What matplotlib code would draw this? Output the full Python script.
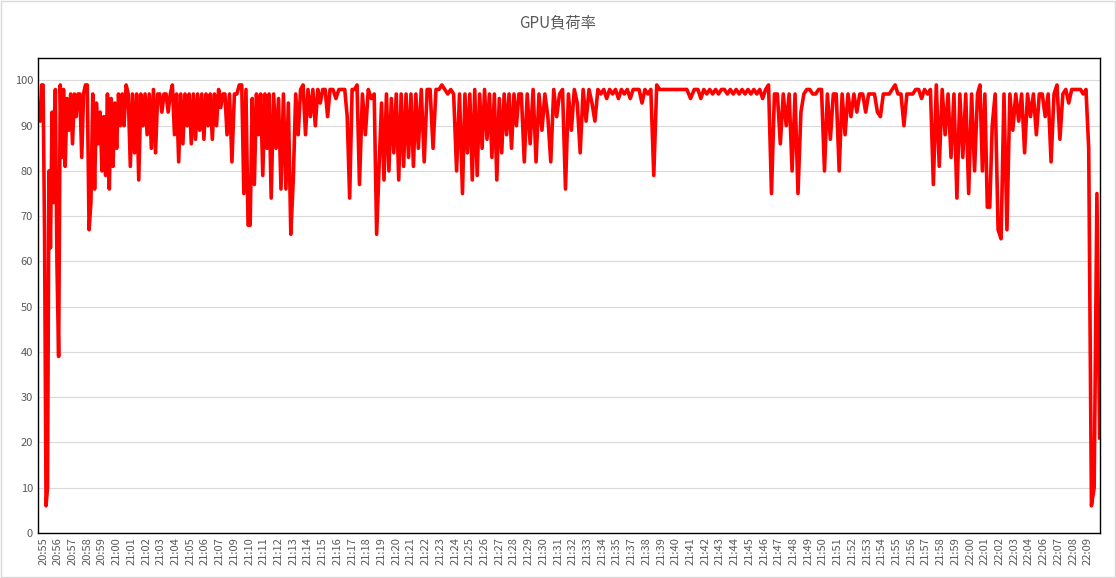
import numpy as np
import matplotlib.pyplot as plt

plt.rcParams['font.family'] = ['Noto Sans CJK JP', 'DejaVu Sans']

# tick labels as shown on the chart (Excel skipped 21:08, 21:36 and 22:05)
labels = ['20:55', '20:56', '20:57', '20:58', '20:59',
          '21:00', '21:01', '21:02', '21:03', '21:04', '21:05', '21:06', '21:07',
          '21:09', '21:10', '21:11', '21:12', '21:13', '21:14', '21:15', '21:16',
          '21:17', '21:18', '21:19', '21:20', '21:21', '21:22', '21:23', '21:24',
          '21:25', '21:26', '21:27', '21:28', '21:29', '21:30', '21:31', '21:32',
          '21:33', '21:34', '21:35', '21:37', '21:38', '21:39', '21:40', '21:41',
          '21:42', '21:43', '21:44', '21:45', '21:46', '21:47', '21:48', '21:49',
          '21:50', '21:51', '21:52', '21:53', '21:54', '21:55', '21:56', '21:57',
          '21:58', '21:59', '22:00', '22:01', '22:02', '22:03', '22:04', '22:06',
          '22:07', '22:08', '22:09']

# GPU load (%) samples, grouped by tick slot
slot_load = [
    [95, 91, 99, 99, 66, 6, 10, 80],
    [63, 93, 73, 98, 59, 39, 99, 83, 98],
    [81, 96, 89, 97, 86, 97, 92, 97],
    [97, 83, 97, 99, 99, 67, 73, 97],
    [76, 95, 86, 93, 80, 92, 79, 97],
    [76, 96, 81, 95, 85, 97, 90, 97],
    [90, 99, 97, 81, 97, 84, 97],
    [78, 97, 90, 97, 88, 97, 85],
    [98, 84, 97, 97, 93, 97, 97],
    [93, 97, 99, 88, 97, 82, 97],
    [86, 97, 90, 97, 86, 97, 87],
    [97, 89, 97, 87, 97, 90, 97],
    [87, 97, 90, 98, 94, 97, 97],
    [88, 97, 82, 97, 97, 99],
    [99, 75, 98, 68, 68, 96, 77],
    [97, 88, 97, 79, 97, 85, 97],
    [74, 97, 85, 96, 76, 97],
    [76, 95, 66, 78, 97, 88],
    [98, 99, 88, 98, 92, 98],
    [90, 98, 95, 98, 98, 92],
    [98, 98, 96, 98, 98],
    [98, 92, 74, 98, 98, 99],
    [77, 97, 88, 98, 96],
    [97, 66, 81, 95, 78, 97],
    [80, 96, 84, 97, 78, 97],
    [81, 97, 83, 97, 81, 97],
    [85, 98, 82, 98, 98],
    [85, 98, 98, 99, 98],
    [97, 98, 97, 80, 97],
    [75, 97, 84, 97, 78, 98],
    [79, 97, 85, 98, 87, 97],
    [83, 97, 78, 96, 84, 97],
    [88, 97, 85, 97, 90, 97],
    [97, 82, 97, 86, 98],
    [82, 97, 89, 97, 92],
    [82, 98, 92, 97, 98],
    [76, 97, 89, 98, 95],
    [84, 98, 91, 98, 95],
    [91, 98, 97, 98, 96],
    [98, 97, 98, 96, 98],
    [97, 98, 96, 98, 98],
    [98, 95, 98, 97, 98],
    [79, 99, 98, 98, 98],
    [98, 98, 98, 98],
    [98, 98, 96, 98],
    [98, 96, 98, 97, 98],
    [97, 98, 97, 98, 98],
    [97, 98, 97, 98, 97],
    [98, 97, 98, 97, 98],
    [97, 98, 96, 98, 99],
    [75, 97, 97, 86, 97],
    [90, 97, 80, 97, 75],
    [93, 97, 98, 98, 97],
    [97, 98, 98, 80, 97],
    [87, 97, 97, 80, 97],
    [88, 97, 92, 97, 93],
    [97, 97, 93, 97, 97],
    [97, 93, 92, 97, 97],
    [97, 98, 99, 97, 97],
    [90, 97, 97, 97, 98],
    [98, 96, 98, 97, 98],
    [77, 99, 81, 98, 88],
    [97, 83, 97, 74, 97],
    [83, 97, 75, 97, 80],
    [97, 99, 80, 97, 72, 72],
    [90, 97, 67, 65, 97],
    [67, 97, 89, 97, 91],
    [97, 84, 97, 92, 97],
    [88, 97, 97, 92, 97],
    [82, 97, 99, 87, 97],
    [98, 95, 98, 98, 98],
    [98, 97, 98, 85, 6, 10, 75, 21],
]

# spread the samples of each slot across its width on the category axis
x, y = [], []
last = len(slot_load) - 1
for k, vals in enumerate(slot_load):
    lo = -0.3 if k == 0 else k - 0.5
    hi = k + 0.8 if k == last else k + 0.5
    x.extend(np.linspace(lo, hi, len(vals), endpoint=(k == last)))
    y.extend(vals)

fig = plt.figure(figsize=(11.16, 5.78), dpi=100)
ax = fig.add_axes([0.034, 0.078, 0.952, 0.822])
ax.plot(x, y, color='#ff0000', linewidth=2.6)

ax.set_ylim(0, 105)
ax.set_yticks(range(0, 101, 10))
ax.set_xlim(-0.35, 71.85)
ax.set_xticks(range(len(labels)))
ax.set_xticklabels(labels, rotation=90, fontsize=8, color='#595959')
ax.tick_params(axis='y', labelsize=8, colors='#595959', length=0)
ax.tick_params(axis='x', length=0, pad=3)
ax.grid(axis='y', color='#d9d9d9', linewidth=0.8)
ax.set_axisbelow(True)
for s in ax.spines.values():
    s.set_color('black')
    s.set_linewidth(1)

fig.suptitle('GPU負荷率', y=0.975, fontsize=11, color='#595959')
fig.patches.append(plt.Rectangle((0.001, 0.001), 0.998, 0.998, transform=fig.transFigure,
                                 fill=False, edgecolor='#d9d9d9', linewidth=1))
fig.savefig('out.png')
